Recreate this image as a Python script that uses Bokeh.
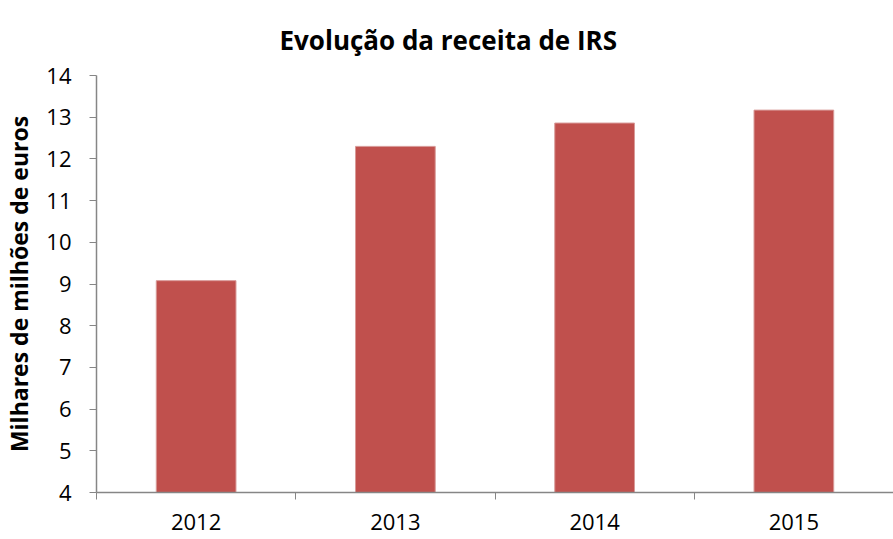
from bokeh.plotting import figure
from bokeh.models import Range1d, FixedTicker, ColumnDataSource, Title
from bokeh.embed import file_html
from bokeh.resources import INLINE

title_text = "Evolução da receita de IRS"
years = ["2012", "2013", "2014", "2015"]
receita = [9.08, 12.30, 12.86, 13.17]
y_min, y_max = 4, 14
y_ticks = list(range(4, 15))

xs = [i + 0.5 for i in range(len(years))]
src = ColumnDataSource(dict(x=xs, top=receita, bottom=[y_min] * len(years)))

p = figure(width=893, height=539, output_backend="svg", toolbar_location=None,
           x_range=Range1d(0, len(years)), y_range=Range1d(y_min, y_max),
           min_border_left=95, min_border_right=0, min_border_top=75, min_border_bottom=47)
p.background_fill_color = None
p.border_fill_color = "white"
p.outline_line_color = None
p.xgrid.visible = False
p.ygrid.visible = False

p.vbar(x="x", top="top", bottom="bottom", width=0.4, source=src,
       fill_color="#C0504D", line_color="#D89A98", line_width=1)

font = "Open Sans"
axis_col = "#868686"

p.title = Title(text=title_text, align="left", vertical_align="top",
                text_font=font, text_font_size="26px", text_font_style="bold",
                text_color="#000000", offset=183, standoff=32)

xa = p.xaxis[0]
xa.ticker = FixedTicker(ticks=xs, minor_ticks=list(range(len(years) + 1)))
xa.major_label_overrides = {x: y for x, y in zip(xs, years)}
xa.major_tick_out = 0
xa.major_tick_in = 0
xa.minor_tick_out = 7
xa.minor_tick_in = 0
xa.minor_tick_line_color = axis_col
xa.axis_line_color = axis_col
xa.axis_line_width = 1.5
xa.major_label_text_font = font
xa.major_label_text_font_size = "22px"
xa.major_label_text_color = "#000000"
xa.major_label_standoff = 14

ya = p.yaxis[0]
ya.ticker = FixedTicker(ticks=y_ticks)
ya.major_tick_out = 7
ya.major_tick_in = 0
ya.minor_tick_out = 0
ya.minor_tick_in = 0
ya.major_tick_line_color = axis_col
ya.axis_line_color = axis_col
ya.axis_line_width = 1.5
ya.major_label_text_font = font
ya.major_label_text_font_size = "22px"
ya.major_label_text_color = "#000000"
ya.major_label_standoff = 18
ya.axis_label = "Milhares de milhões de euros"
ya.axis_label_text_font = font
ya.axis_label_text_font_size = "23px"
ya.axis_label_text_font_style = "bold"
ya.axis_label_text_color = "#000000"
ya.axis_label_standoff = 8

open("out.html", "w").write(file_html(p, INLINE))
